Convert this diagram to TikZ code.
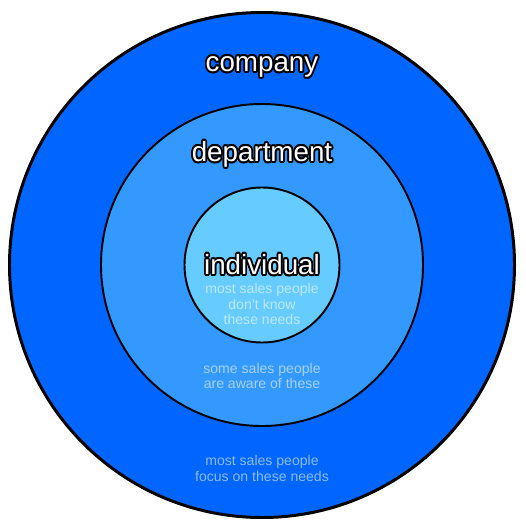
\documentclass[tikz,border=0pt]{standalone}
\usepackage{fontspec}
\setmainfont{Liberation Sans}
\usetikzlibrary{calc}
\definecolor{companyblue}{HTML}{0066FF}
\definecolor{deptblue}{HTML}{3399FF}
\definecolor{indivblue}{HTML}{66CCFF}
\tikzset{
  title/.style={text=white, inner sep=0pt, anchor=base, font=\fontsize{15.8}{18}\selectfont},
  outline/.style={text=black, inner sep=0pt, anchor=base, font=\fontsize{15.8}{18}\selectfont},
  note/.style={text=white, text opacity=0.55, align=center, font=\fontsize{8}{8.8}\selectfont},
}

\begin{document}
\begin{tikzpicture}
    \useasboundingbox (0,0) rectangle (10.52,-10.60);
    \coordinate (centre) at (5.24,-5.30);
    %the rings
    \filldraw[fill=companyblue, line width=1.7pt] (centre) circle (5.05);
    \filldraw[fill=deptblue, line width=1.1pt] (centre) circle (3.22);
    \filldraw[fill=indivblue, line width=1.1pt] (centre) circle (1.55);
    %the titles, black copies round a white one
    \foreach \name/\y in {company/-1.43, department/-3.23, individual/-5.49} {
        \foreach \a in {0,30,...,330}
            \node[outline] (\name-\a) at ($(5.24,\y)+(\a:0.035)$) {\name};
        \node[title] (\name) at (5.24,\y) {\name};
    }
    %the notes
    \node[note] (individual-note) at (5.24,-6.08) {most sales people\\don't know\\these needs};
    \node[note] (department-note) at (5.24,-7.52) {some sales people\\are aware of these};
    \node[note] (company-note) at (5.24,-9.37) {most sales people\\focus on these needs};
\end{tikzpicture}
\end{document}
